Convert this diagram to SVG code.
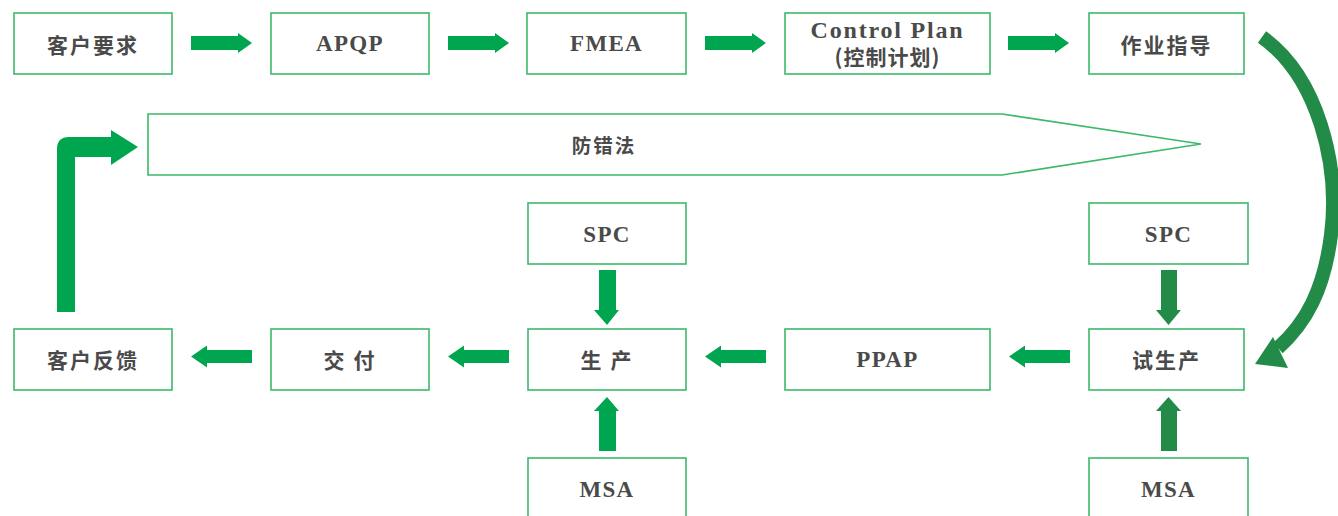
<svg xmlns="http://www.w3.org/2000/svg" xmlns:xlink="http://www.w3.org/1999/xlink" width="1338" height="516" viewBox="0 0 1338 516">
<style>
.box{fill:#ffffff;stroke:#3cb96a;stroke-width:1.6}
.t{fill:#4a4a4a;font-family:"Liberation Serif","Noto Sans CJK SC",serif;font-weight:bold;font-size:22px;letter-spacing:1.3px;text-anchor:middle;dominant-baseline:central}
.cn{font-family:"Noto Sans CJK SC","Noto Sans CJK JP",sans-serif;font-size:21px;letter-spacing:2px}
.g{fill:#00a54f}
.dg{fill:#228b47}
</style>
<defs>
<path id="ar" d="M0,-7 H47 V-10 L61,0 L47,10 V7 H0 Z"/>
<path id="al" d="M0,-6.5 H-45 V-11 L-61,0 L-45,11 V6.5 H0 Z"/>
</defs>
<g id="connectors">
<use xlink:href="#ar" class="g" transform="translate(191,43)"/>
<use xlink:href="#ar" class="g" transform="translate(448,43)"/>
<use xlink:href="#ar" class="g" transform="translate(705,43)"/>
<use xlink:href="#ar" class="g" transform="translate(1008,43)"/>
<use xlink:href="#al" class="g" transform="translate(252,356.5)"/>
<use xlink:href="#al" class="g" transform="translate(509,356.5)"/>
<use xlink:href="#al" class="g" transform="translate(766,356.5)"/>
<use xlink:href="#al" class="g" transform="translate(1070,356.5)"/>
<path class="g" d="M599,270 H616 V310 H619 L607,325 L594,310 H599 Z"/>
<path class="g" d="M599,451 H616 V411 H619 L607,397 L594,411 H599 Z"/>
<path class="dg" d="M1161,270 H1177 V310 H1181 L1168.5,325 L1156,310 H1161 Z"/>
<path class="dg" d="M1161,451 H1177 V411 H1181 L1168.5,397 L1156,411 H1161 Z"/>
<path class="g" d="M57,312 V149 Q57,137 69,137 H111 V130 L138,147 L111,165 V157 H75 V312 Z"/>
<path d="M1262,37 C1318,77 1340,165 1331,235 C1324,290 1306,323 1278,348" fill="none" stroke="#228b47" stroke-width="14"/>
<polygon class="dg" points="1255,364 1273,337 1288,368"/>
</g>
<g id="n-kehuyaoqiu"><rect class="box" x="14" y="13" width="158" height="61"/><text class="t cn" x="93" y="43.5">客户要求</text></g>
<g id="n-apqp"><rect class="box" x="271" y="13" width="158" height="61"/><text class="t" x="350" y="43.5" style="font-size:23px">APQP</text></g>
<g id="n-fmea"><rect class="box" x="527" y="13" width="159" height="61"/><text class="t" x="606.5" y="43.5" style="font-size:23px">FMEA</text></g>
<g id="n-controlplan"><rect class="box" x="785" y="13" width="205" height="61"/><text class="t" x="887.5" y="30" style="font-size:24px;letter-spacing:1.8px">Control Plan</text><text class="t cn" x="887.5" y="56" style="letter-spacing:1px">(控制计划)</text></g>
<g id="n-zuoyezhidao"><rect class="box" x="1089" y="13" width="155" height="61"/><text class="t cn" x="1166.5" y="43.5">作业指导</text></g>
<g id="n-fangcuofa"><polygon class="box" points="148,114 1002,114 1201,144 1002,175 148,175"/><text class="t cn" x="604" y="144" style="font-size:19.5px">防错法</text></g>
<g id="n-spc1"><rect class="box" x="528" y="203" width="158" height="61"/><text class="t" x="607" y="234" style="font-size:23px">SPC</text></g>
<g id="n-spc2"><rect class="box" x="1089" y="203" width="159" height="61"/><text class="t" x="1168.5" y="234" style="font-size:23px">SPC</text></g>
<g id="n-kehufankui"><rect class="box" x="14" y="329" width="158" height="61"/><text class="t cn" x="93" y="359">客户反馈</text></g>
<g id="n-jiaofu"><rect class="box" x="271" y="329" width="158" height="61"/><text class="t cn" x="350" y="359">交 付</text></g>
<g id="n-shengchan"><rect class="box" x="528" y="329" width="158" height="61"/><text class="t cn" x="607" y="359">生 产</text></g>
<g id="n-ppap"><rect class="box" x="785" y="329" width="205" height="61"/><text class="t" x="887.5" y="359" style="font-size:23px">PPAP</text></g>
<g id="n-shishengchan"><rect class="box" x="1089" y="329" width="155" height="61"/><text class="t cn" x="1166.5" y="359">试生产</text></g>
<g id="n-msa1"><rect class="box" x="528" y="458" width="158" height="70"/><text class="t" x="607" y="489" style="font-size:23px">MSA</text></g>
<g id="n-msa2"><rect class="box" x="1089" y="458" width="159" height="70"/><text class="t" x="1168.5" y="489" style="font-size:23px">MSA</text></g>
</svg>
